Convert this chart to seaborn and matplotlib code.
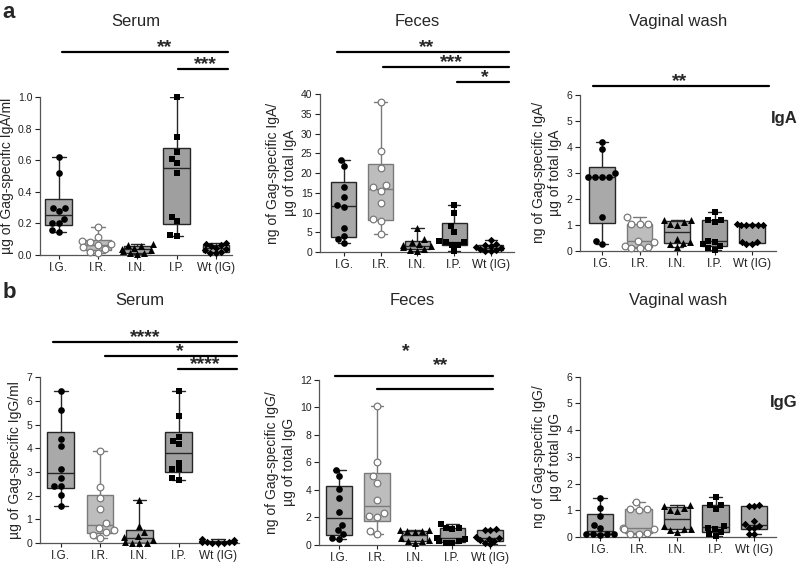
import numpy as np
import pandas as pd
import seaborn as sns
import matplotlib.pyplot as plt
from matplotlib import transforms
import warnings

warnings.filterwarnings('ignore')

groups = ['I.G.', 'I.R.', 'I.N.', 'I.P.', 'Wt (IG)']

# values, one list per group
serum_iga = {
    'I.G.': [0.62, 0.52, 0.30, 0.30, 0.28, 0.226, 0.205, 0.20, 0.158, 0.148],
    'I.R.': [0.175, 0.115, 0.09, 0.08, 0.07, 0.06, 0.05, 0.035, 0.02, 0.01],
    'I.N.': [0.068, 0.06, 0.055, 0.045, 0.04, 0.032, 0.025, 0.015, 0.01, 0.005],
    'I.P.': [1.0, 0.747, 0.654, 0.61, 0.58, 0.52, 0.243, 0.215, 0.127, 0.122],
    'Wt (IG)': [0.075, 0.07, 0.06, 0.055, 0.045, 0.04, 0.03, 0.02, 0.015, 0.01],
}
feces_iga = {
    'I.G.': [23.4, 21.9, 16.5, 13.9, 12.0, 11.4, 6.2, 4.2, 3.2, 2.3],
    'I.R.': [38.0, 25.6, 21.3, 17.0, 16.4, 15.5, 12.4, 8.4, 7.8, 4.6],
    'I.N.': [6.2, 3.4, 2.6, 2.0, 1.8, 1.5, 1.2, 0.8, 0.5, 0.3],
    'I.P.': [12.0, 10.0, 6.5, 5.1, 2.7, 2.6, 2.5, 1.9, 1.7, 0.2],
    'Wt (IG)': [3.1, 2.0, 1.9, 1.6, 1.3, 1.0, 0.9, 0.6, 0.4, 0.2],
}
vag_iga = {
    'I.G.': [4.2, 3.9, 3.0, 2.85, 2.85, 2.85, 2.85, 1.3, 0.4, 0.27],
    'I.R.': [1.3, 1.05, 1.05, 1.03, 0.4, 0.35, 0.18, 0.15, 0.12, 0.1],
    'I.N.': [1.2, 1.18, 1.12, 1.05, 1.0, 0.45, 0.33, 0.3, 0.25, 0.15],
    'I.P.': [1.5, 1.2, 1.18, 1.1, 0.4, 0.35, 0.25, 0.2, 0.1, 0.05],
    'Wt (IG)': [1.02, 1.0, 1.0, 1.0, 1.0, 1.0, 0.36, 0.35, 0.25, 0.25],
}
serum_igg = {
    'I.G.': [6.41, 5.64, 4.39, 4.09, 3.15, 2.77, 2.4, 2.4, 2.05, 1.55],
    'I.R.': [3.88, 2.36, 1.9, 1.42, 0.85, 0.65, 0.55, 0.45, 0.35, 0.2],
    'I.N.': [1.83, 0.72, 0.48, 0.3, 0.25, 0.15, 0.05, 0.02, 0.02, 0.01],
    'I.P.': [6.41, 5.38, 4.46, 4.32, 4.18, 3.39, 3.15, 3.11, 2.73, 2.66],
    'Wt (IG)': [0.18, 0.12, 0.08, 0.06, 0.05, 0.04, 0.03, 0.02, 0.02, 0.01],
}
feces_igg = {
    'I.G.': [5.43, 4.99, 4.05, 3.42, 2.40, 1.43, 1.07, 0.78, 0.53, 0.39],
    'I.R.': [10.1, 6.04, 4.97, 4.48, 3.27, 2.3, 2.06, 2.0, 1.04, 0.75],
    'I.N.': [1.1, 1.05, 1.0, 1.0, 0.95, 0.5, 0.35, 0.3, 0.25, 0.15],
    'I.P.': [1.5, 1.25, 1.2, 1.15, 0.5, 0.42, 0.3, 0.25, 0.15, 0.1],
    'Wt (IG)': [1.12, 1.1, 1.05, 0.6, 0.5, 0.45, 0.35, 0.3, 0.1, 0.05],
}
vag_igg = {
    'I.G.': [1.45, 1.08, 0.78, 0.45, 0.35, 0.12, 0.1, 0.1, 0.1, 0.08],
    'I.R.': [1.3, 1.05, 1.05, 1.02, 0.35, 0.3, 0.3, 0.15, 0.1, 0.1],
    'I.N.': [1.2, 1.15, 1.1, 1.0, 0.98, 0.4, 0.3, 0.3, 0.25, 0.2],
    'I.P.': [1.5, 1.2, 1.18, 1.05, 0.4, 0.35, 0.3, 0.2, 0.1, 0.05],
    'Wt (IG)': [1.2, 1.15, 1.15, 0.6, 0.5, 0.4, 0.35, 0.35, 0.12, 0.12],
}

sns.set_style('ticks')
plt.rcParams['font.family'] = ['Liberation Sans', 'DejaVu Sans']

markers = ['o', 'o', '^', 's', 'D']
face = ['black', 'white', 'black', 'black', 'black']
edge = ['black', '#7a7a7a', 'black', 'black', 'black']
msize = [4.8, 4.8, 5.0, 4.6, 3.8]
box_face = ['#a9a9a9', '#bdbdbd', '#a9a9a9', '#9f9f9f', '#a9a9a9']
box_edge = ['#262626', '#7a7a7a', '#262626', '#262626', '#262626']


def prism_stats(vals):
    v = np.asarray(vals, dtype=float)
    q1, med, q3 = np.percentile(v, [25, 50, 75], method='weibull')
    return dict(whislo=v.min(), q1=q1, med=med, q3=q3, whishi=v.max(), fliers=[])


def panel(ax, data, ymax, ystep, fmt, ylabel, xlim, sigs):
    df = pd.DataFrame([(g, v) for g in groups for v in data[g]], columns=['group', 'value'])
    for i, g in enumerate(groups):
        sns.swarmplot(data=df[df.group == g], x='group', y='value', order=groups, ax=ax,
                      marker=markers[i], color=face[i], edgecolor=edge[i],
                      linewidth=0.9 if face[i] == 'white' else 0, size=msize[i],
                      zorder=4, clip_on=False)
    bp = ax.bxp([prism_stats(data[g]) for g in groups], positions=range(len(groups)),
                widths=0.68, capwidths=0.34, showfliers=False, patch_artist=True,
                manage_ticks=False)
    for i in range(len(groups)):
        bp['boxes'][i].set(facecolor=box_face[i], edgecolor=box_edge[i], linewidth=1.0, zorder=2)
        bp['medians'][i].set(color=box_edge[i], linewidth=1.0, zorder=3)
        for ln in bp['whiskers'][2 * i:2 * i + 2] + bp['caps'][2 * i:2 * i + 2]:
            ln.set(color=box_edge[i], linewidth=1.0, zorder=3)

    ticks = np.arange(0, ymax + ystep / 2, ystep)
    ax.set_xlim(*xlim)
    ax.set_ylim(0, ymax)
    ax.set_yticks(ticks)
    ax.set_yticklabels([fmt.format(t) for t in ticks])
    ax.set_xticks(range(len(groups)))
    ax.set_xticklabels(groups)
    ax.set_xlabel('')
    ax.set_ylabel(ylabel, fontsize=10, labelpad=3)
    ax.tick_params(axis='both', colors='#222222', width=0.8)
    ax.tick_params(axis='y', length=3.5, labelsize=7.5, pad=2)
    ax.tick_params(axis='x', length=3, labelsize=8.5, pad=2)
    for s in ['top', 'right']:
        ax.spines[s].set_visible(False)
    for s in ['left', 'bottom']:
        ax.spines[s].set_color('#555555')
        ax.spines[s].set_linewidth(0.9)

    trans = transforms.blended_transform_factory(ax.transData, ax.transAxes)
    for x0, x1, yb, lab, lx, ly in sigs:
        ax.plot([x0, x1], [yb, yb], transform=trans, color='black', lw=1.6, clip_on=False)
        ax.annotate(lab, xy=(lx, ly), xycoords=trans, xytext=(0, 0), textcoords='offset points',
                    ha='center', va='baseline', fontsize=14, fontweight='bold')


fig = plt.figure(figsize=(8, 5.64), dpi=100)

ax1 = fig.add_axes([0.05, 0.548, 0.24, 0.280])
panel(ax1, serum_iga, 1.0, 0.2, '{:.1f}', 'µg of Gag-specific IgA/ml', (-0.48, 4.41),
      [(0.08, 4.3, 1.285, '**', 2.7, 1.285), (3.03, 4.3, 1.177, '***', 3.72, 1.177)])

ax2 = fig.add_axes([0.40, 0.553, 0.2425, 0.280])
panel(ax2, feces_iga, 40, 5, '{:.0f}', 'ng of Gag-specific IgA/\nµg of total IgA', (-0.65, 4.63),
      [(-0.19, 4.49, 1.266, '**', 2.26, 1.266), (1.06, 4.49, 1.171, '***', 2.94, 1.171),
       (3.07, 4.49, 1.076, '*', 3.84, 1.076)])

ax3 = fig.add_axes([0.725, 0.555, 0.245, 0.277])
panel(ax3, vag_iga, 6, 1, '{:.0f}', 'ng of Gag-specific IgA/\nµg of total IgA', (-0.59, 4.64),
      [(-0.24, 4.45, 1.058, '**', 2.08, 1.058)])

ax4 = fig.add_axes([0.05, 0.037, 0.249, 0.294])
panel(ax4, serum_igg, 7, 1, '{:.0f}', 'µg of Gag-specific IgG/ml', (-0.53, 4.54),
      [(-0.2, 4.48, 1.211, '****', 2.14, 1.211), (1.12, 4.48, 1.127, '*', 3.03, 1.127),
       (2.98, 4.48, 1.048, '****', 3.67, 1.048)])

ax5 = fig.add_axes([0.399, 0.034, 0.2325, 0.293])
panel(ax5, feces_igg, 12, 2, '{:.0f}', 'ng of Gag-specific IgG/\nµg of total IgG', (-0.53, 4.4),
      [(-0.1, 4.08, 1.024, '*', 1.77, 1.145), (1.0, 4.08, 0.94, '**', 2.7, 1.055)])

ax6 = fig.add_axes([0.725, 0.048, 0.245, 0.284])
panel(ax6, vag_igg, 6, 1, '{:.0f}', 'ng of Gag-specific IgG/\nµg of total IgG', (-0.52, 4.57), [])

# column titles
for ax, title, yt in [(ax1, 'Serum', 0.961), (ax2, 'Feces', 0.961), (ax3, 'Vaginal wash', 0.961),
                      (ax4, 'Serum', 0.468), (ax5, 'Feces', 0.468), (ax6, 'Vaginal wash', 0.468)]:
    pos = ax.get_position()
    fig.text(pos.x0 + pos.width / 2, yt, title, ha='center', va='center', fontsize=12)

fig.text(0.003, 0.997, 'a', ha='left', va='top', fontsize=16, fontweight='bold')
fig.text(0.003, 0.500, 'b', ha='left', va='top', fontsize=16, fontweight='bold')
fig.text(0.997, 1 - 118 / 564, 'IgA', ha='right', va='center', fontsize=12, fontweight='bold')
fig.text(0.997, 1 - 402 / 564, 'IgG', ha='right', va='center', fontsize=12, fontweight='bold')

fig.savefig('out.png', dpi=100)
